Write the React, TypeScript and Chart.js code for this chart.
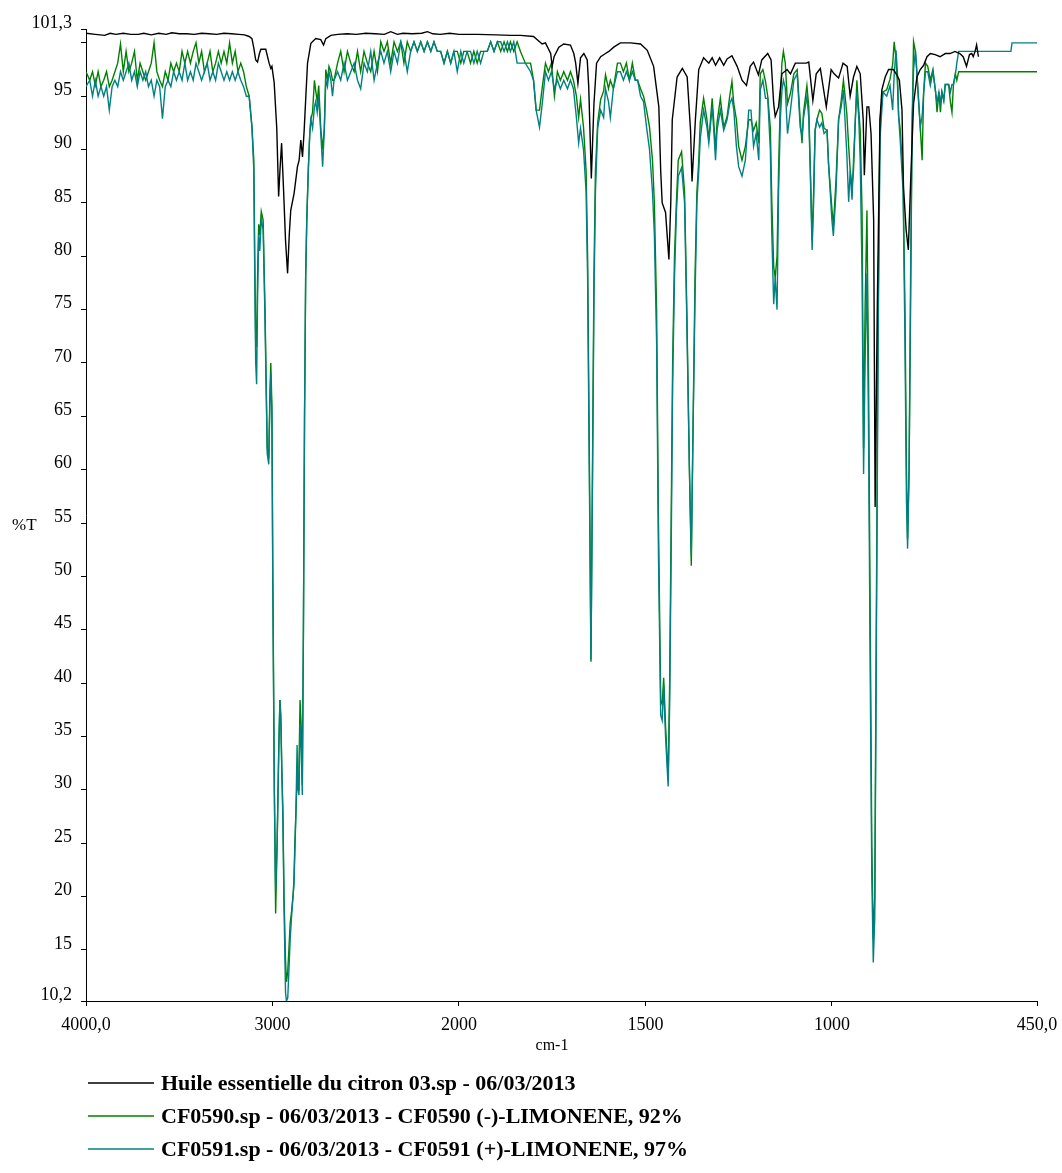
import { useEffect, useRef } from "react";
import { Chart, registerables } from "chart.js";

Chart.register(...registerables);

// Lemon essential oil spectrum: wavenumber (cm-1) and transmittance (%T)
const citronWn = [
  4000, 3950, 3900, 3870, 3840, 3800, 3760, 3720, 3690, 3650, 3610, 3570, 3540, 3500, 3460, 3420,
  3380, 3340, 3300, 3260, 3220, 3180, 3150, 3125, 3110, 3100, 3090, 3080, 3070, 3062, 3045, 3036,
  3018, 3009, 3003, 2991, 2977, 2967, 2960, 2951, 2940, 2930, 2919, 2910, 2902, 2884, 2866, 2857,
  2848, 2839, 2830, 2821, 2812, 2794, 2768, 2741, 2726, 2714, 2687, 2650, 2600, 2550, 2500, 2450,
  2400, 2366, 2330, 2300, 2250, 2200, 2169, 2140, 2100, 2050, 2000, 1950, 1900, 1860, 1835, 1800,
  1777, 1768, 1754, 1750, 1745, 1732, 1719, 1701, 1692, 1687, 1681, 1674, 1665, 1656, 1652, 1645,
  1638, 1631, 1620, 1607, 1598, 1585, 1567, 1540, 1513, 1495, 1478, 1464, 1459, 1455, 1446, 1437,
  1432, 1428, 1415, 1401, 1388, 1379, 1375, 1366, 1357, 1344, 1330, 1321, 1312, 1301, 1290, 1281,
  1268, 1254, 1241, 1229, 1219, 1210, 1197, 1188, 1172, 1163, 1156, 1152, 1143, 1134, 1120, 1111,
  1098, 1080, 1069, 1062, 1051, 1042, 1031, 1015, 1002, 994, 982, 970, 959, 951, 942, 933,
  924, 916, 913, 906, 901, 895, 888, 884, 878, 871, 866, 857, 848, 835, 826, 819,
  812, 808, 801, 795, 788, 781, 772, 763, 754, 745, 736, 723, 710, 696, 683, 670,
  657, 648, 639, 631, 625, 621, 616, 612, 607,
];
const citronT = [
  100.9, 100.8, 100.7, 100.9, 100.8, 100.9, 100.8, 100.8, 100.9, 100.75, 100.9, 100.8, 100.95, 100.85, 100.85, 100.8,
  100.9, 100.85, 100.8, 100.9, 100.85, 100.8, 100.75, 100.6, 100.4, 99.5, 98.4, 98.2, 99.0, 99.4, 99.4, 99.4,
  98.1, 97.6, 97.8, 96.3, 92.0, 85.6, 88.0, 90.6, 86.0, 81.5, 78.4, 82.0, 84.3, 85.9, 88.4, 89.0,
  90.9, 89.3, 91.8, 95.0, 98.1, 99.96, 100.4, 100.3, 99.8, 100.4, 100.7, 100.8, 100.85, 100.8, 100.9, 100.85,
  100.8, 101.05, 100.8, 100.9, 100.85, 100.9, 101.05, 100.85, 100.8, 100.9, 100.8, 100.8, 100.75, 100.7, 100.7, 100.6,
  99.9, 100.0, 99.0, 97.8, 98.7, 99.6, 99.9, 99.8, 99.0, 98.1, 96.2, 98.6, 99.0, 98.4, 95.9, 87.3,
  94.3, 98.1, 98.7, 99.0, 99.2, 99.6, 100.0, 100.0, 99.9, 99.3, 97.8, 94.0, 88.0, 85.0, 84.1, 79.7,
  85.0, 92.8, 96.8, 97.6, 96.8, 91.8, 87.0, 92.8, 97.5, 98.6, 98.1, 98.6, 97.9, 98.6, 97.9, 98.5,
  98.8, 97.8, 96.5, 96.0, 97.8, 98.2, 97.0, 98.4, 99.0, 98.4, 94.3, 93.1, 94.0, 97.1, 97.5, 97.1,
  98.1, 98.1, 98.1, 98.2, 94.6, 97.1, 97.6, 94.0, 97.5, 97.1, 96.7, 98.1, 97.8, 95.0, 96.8, 97.8,
  97.1, 92.8, 87.6, 94.0, 94.0, 91.5, 83.4, 56.5, 75.9, 92.8, 95.6, 96.8, 97.5, 97.5, 97.0, 96.5,
  93.7, 86.5, 82.5, 80.6, 87.8, 94.3, 96.8, 97.5, 97.9, 98.7, 99.0, 98.9, 98.7, 99.0, 99.0, 99.2,
  99.0, 98.7, 97.8, 98.9, 99.0, 98.7, 99.2, 99.8, 98.7,
];

// Shared wavenumber grid of the two limonene reference spectra
const limoneneWn = [
  4000, 3980, 3965, 3950, 3935, 3920, 3905, 3890, 3875, 3860, 3845, 3830, 3815, 3800, 3785, 3770,
  3755, 3740, 3725, 3710, 3695, 3680, 3665, 3650, 3635, 3620, 3605, 3590, 3575, 3560, 3545, 3530,
  3515, 3500, 3485, 3470, 3455, 3440, 3425, 3410, 3395, 3380, 3365, 3350, 3335, 3320, 3305, 3290,
  3275, 3260, 3245, 3230, 3215, 3200, 3185, 3170, 3155, 3140, 3125, 3110, 3100,
  3095, 3090, 3085, 3080, 3074, 3068, 3060, 3050, 3040, 3028, 3020, 3014, 3009, 3003, 2998, 2990,
  2983, 2975, 2966, 2960, 2955, 2950, 2944, 2938, 2930, 2925, 2918, 2912, 2905, 2898, 2890, 2885,
  2880, 2874, 2868, 2863, 2858, 2852, 2846, 2840, 2834, 2828, 2822, 2816, 2808, 2800, 2794, 2785,
  2775, 2768, 2760, 2752, 2741, 2731, 2722, 2714, 2705, 2697,
  2687, 2678, 2670, 2651, 2634, 2616, 2598, 2580, 2562, 2544, 2527, 2509, 2491, 2473, 2455, 2437,
  2419, 2402, 2384, 2366, 2348, 2330, 2312, 2295, 2277, 2259, 2241, 2223, 2205, 2187, 2169, 2151,
  2134, 2116, 2098, 2080, 2062, 2044, 2027, 2009, 1995, 1987, 1978, 1969, 1960, 1951, 1942, 1933,
  1924, 1915, 1906, 1897, 1888, 1879, 1870, 1862, 1853, 1844, 1835,
  1822, 1808, 1800, 1793, 1784, 1776, 1768, 1760, 1752, 1744, 1736, 1728, 1719, 1709, 1701, 1693,
  1685, 1679, 1674, 1666, 1659, 1655, 1650, 1646, 1642, 1638, 1634, 1628, 1620, 1612, 1607, 1599,
  1594, 1586, 1575, 1567, 1559, 1551, 1543, 1535, 1527, 1521, 1513, 1505, 1497, 1489, 1481, 1476,
  1470, 1465, 1459, 1455, 1451, 1446, 1439, 1435, 1431, 1427, 1422, 1417, 1412, 1403, 1395, 1389,
  1382, 1377, 1373, 1367, 1362, 1357,
  1353, 1344, 1335, 1330, 1321, 1317, 1312, 1308, 1299, 1290, 1281, 1274, 1268, 1263, 1256, 1250,
  1241, 1232, 1223, 1217, 1210, 1203, 1196, 1192, 1185, 1178, 1172, 1165, 1161, 1156, 1152, 1147,
  1143, 1138, 1134, 1130, 1125, 1119, 1111, 1102, 1093, 1085, 1080, 1076, 1067, 1062, 1058, 1053,
  1049, 1045, 1040, 1033, 1027, 1021, 1013, 1009, 1000, 996, 989, 982, 975, 969, 960, 955,
  951, 946, 942, 937, 933, 928, 924, 919, 915, 911, 906, 902, 897, 893, 889, 885,
  881, 876, 871, 863, 853, 844, 837, 833, 828, 824, 821, 817, 809, 804, 800, 797,
  793, 789, 785, 781, 776, 772, 767, 763, 758, 754, 749, 743, 736, 729, 722, 718,
  713, 709, 705, 700, 696, 687, 682, 678, 674, 669, 665, 660, 650, 520, 517, 450,
];

// CF0590 (-)-limonene, %T on limoneneWn
const cf0590T = [
  97.3, 96.5, 97.3, 96.0, 97.3, 95.9, 96.5, 97.3, 95.9, 96.5, 97.3, 98.1, 99.9, 97.3, 99.2, 97.3,
  98.1, 99.2, 96.5, 98.1, 97.3, 96.5, 97.3, 98.1, 100.0, 97.3, 96.5, 95.9, 97.3, 96.5, 98.1, 97.3,
  98.1, 97.3, 99.2, 98.1, 99.2, 98.1, 99.2, 100.0, 98.1, 99.2, 97.3, 98.1, 99.2, 97.3, 98.1, 99.2,
  98.1, 99.2, 98.1, 100.0, 98.1, 99.2, 97.3, 98.1, 97.3, 95.9, 95.0, 92.1, 89.0,
  80.0, 72.0, 71.5, 78.0, 83.0, 82.0, 84.2, 83.4, 75.0, 62.0, 61.0, 67.0, 70.0, 66.0, 50.0, 30.0,
  18.4, 25.0, 34.0, 38.4, 37.0, 32.0, 28.0, 20.0, 14.0, 12.0, 13.0, 15.0, 17.5, 18.5, 20.0, 21.5,
  25.0, 28.0, 31.0, 30.0, 32.0, 38.4, 36.0, 30.5, 45.0, 65.0, 78.0, 83.4, 88.0, 91.5, 92.8, 93.5,
  96.5, 95.5, 94.5, 96.0, 92.0, 90.0, 92.0, 97.5, 96.5, 97.8,
  97.3, 96.5, 96.5, 98.1, 99.2, 97.3, 99.2, 98.1, 97.3, 99.2, 97.3, 99.2, 98.1, 97.3, 99.2, 97.3,
  100.1, 99.2, 100.1, 98.1, 100.1, 99.2, 100.1, 98.1, 100.1, 99.2, 100.1, 99.2, 100.1, 99.2, 100.1, 99.2,
  100.1, 99.2, 99.2, 98.1, 99.2, 98.1, 99.2, 99.2, 98.1, 99.2, 99.2, 98.1, 99.2, 98.1, 99.2, 99.2,
  99.2, 100.1, 99.2, 100.1, 99.2, 100.1, 99.2, 100.1, 99.2, 100.1, 99.2,
  98.1, 98.1, 96.5, 93.7, 93.7, 96.0, 98.1, 97.3, 98.1, 95.0, 97.3, 96.5, 97.3, 96.5, 97.3, 96.5,
  95.0, 93.0, 94.7, 92.1, 88.0, 80.0, 60.0, 42.0, 60.0, 78.0, 88.0, 92.5, 94.7, 95.5, 97.0, 95.7,
  96.5, 95.7, 98.1, 98.1, 97.3, 98.1, 96.5, 98.1, 96.5, 96.5, 95.7, 95.0, 93.7, 92.1, 89.0, 85.0,
  75.0, 55.0, 38.4, 38.0, 40.5, 36.0, 31.0, 40.0, 55.0, 70.0, 80.0, 85.0, 89.0, 89.8, 86.0, 75.0,
  60.0, 51.0, 62.0, 78.0, 86.0, 88.9,
  92.5, 94.8, 92.8, 90.9, 94.8, 92.8, 89.9, 92.5, 94.8, 92.1, 93.1, 95.0, 96.4, 94.3, 92.8, 90.3,
  89.0, 90.3, 92.8, 92.8, 91.8, 92.5, 90.6, 97.1, 97.5, 96.4, 95.0, 92.0, 85.0, 79.0, 78.0, 80.0,
  88.0, 95.0, 98.1, 99.2, 98.1, 94.3, 95.3, 97.1, 97.5, 92.8, 90.6, 93.5, 96.0, 94.0, 88.5, 81.5,
  86.0, 91.8, 92.8, 93.7, 93.4, 92.0, 91.8, 88.7, 84.5, 82.8, 87.1, 92.8, 94.6, 96.5, 93.4, 90.3,
  88.1, 86.5, 88.1, 92.8, 96.5, 93.7, 91.8, 84.0, 62.0, 75.0, 84.3, 70.0, 45.0, 25.0, 16.0, 20.0,
  45.0, 75.0, 92.8, 95.4, 95.6, 96.6, 98.0, 100.1, 98.5, 96.0, 93.1, 92.0, 87.1, 75.0, 60.0, 53.5,
  60.0, 75.0, 92.0, 100.1, 99.2, 97.3, 94.3, 92.1, 89.0, 95.3, 98.1, 97.8, 96.5, 97.5, 95.4, 93.5,
  95.4, 93.5, 95.4, 94.6, 96.1, 96.1, 94.4, 93.5, 96.1, 97.1, 96.5, 97.3, 97.3, 97.3, 97.3, 97.3,
];

// CF0591 (+)-limonene, %T on limoneneWn
const cf0591T = [
  95.9, 96.5, 95.0, 96.5, 95.0, 95.9, 95.0, 95.9, 93.7, 95.9, 96.5, 95.9, 97.3, 96.5, 97.3, 98.1,
  96.5, 97.3, 95.9, 97.3, 96.5, 97.3, 95.9, 96.5, 95.0, 96.5, 95.9, 92.9, 95.9, 96.5, 95.9, 97.3,
  96.5, 97.3, 96.5, 98.1, 96.5, 97.3, 96.5, 98.1, 97.3, 96.5, 97.3, 98.1, 96.5, 97.3, 96.5, 98.1,
  97.3, 96.5, 97.3, 96.5, 97.3, 96.5, 97.3, 96.5, 95.9, 95.0, 95.0, 92.1, 88.0,
  78.0, 70.0, 68.0, 76.0, 82.0, 80.5, 83.5, 82.5, 74.0, 61.5, 60.5, 66.0, 69.0, 65.0, 48.0, 30.0,
  20.5, 25.0, 34.0, 38.4, 36.0, 32.0, 27.0, 19.0, 11.0, 10.2, 10.5, 13.0, 16.0, 18.0, 20.0, 21.0,
  24.0, 28.0, 34.2, 30.0, 29.5, 36.0, 34.0, 29.5, 45.0, 65.0, 78.0, 83.4, 88.0, 91.5, 92.8, 92.0,
  94.0, 94.5, 93.5, 95.0, 91.5, 88.4, 91.8, 96.5, 95.9, 97.3,
  96.5, 95.0, 96.5, 97.3, 96.5, 98.1, 96.5, 97.3, 98.1, 96.5, 95.7, 98.1, 97.3, 99.2, 96.5, 98.1,
  99.2, 98.1, 99.2, 97.3, 99.2, 98.1, 100.1, 99.2, 97.3, 99.2, 100.1, 99.2, 100.1, 99.2, 100.1, 99.2,
  100.1, 99.2, 99.2, 98.1, 99.2, 98.1, 99.2, 97.3, 99.2, 98.1, 99.2, 99.2, 98.1, 99.2, 98.1, 99.2,
  99.2, 100.1, 99.2, 100.1, 100.1, 99.2, 100.1, 99.2, 100.1, 98.1, 98.1,
  98.1, 97.3, 96.5, 93.7, 92.1, 94.5, 97.3, 96.5, 97.3, 95.7, 96.5, 95.7, 96.5, 95.7, 96.5, 95.7,
  93.0, 90.6, 92.0, 90.0, 86.0, 78.0, 58.0, 42.2, 58.0, 76.0, 86.0, 92.0, 93.7, 93.0, 95.7, 94.5,
  93.0, 95.7, 97.3, 97.3, 96.5, 97.3, 96.5, 97.3, 96.5, 96.5, 95.0, 94.5, 92.1, 90.0, 86.0, 82.0,
  72.0, 52.0, 37.0, 36.5, 39.8, 35.0, 30.3, 38.0, 52.0, 68.0, 78.0, 84.0, 87.5, 88.3, 85.0, 74.0,
  60.0, 52.0, 62.0, 76.0, 85.0, 88.0,
  91.0, 93.7, 92.1, 90.6, 94.0, 92.0, 89.0, 91.8, 93.7, 91.8, 92.8, 94.3, 94.8, 93.7, 90.3, 88.4,
  87.5, 89.0, 93.7, 93.7, 90.3, 91.5, 89.0, 95.6, 96.5, 94.8, 94.8, 90.0, 82.0, 75.5, 78.0, 75.0,
  86.0, 93.0, 95.5, 96.5, 95.8, 91.5, 93.7, 96.5, 97.1, 92.1, 91.3, 93.0, 95.0, 93.0, 88.1, 80.6,
  85.0, 91.8, 92.8, 92.1, 92.5, 91.5, 91.8, 88.7, 83.4, 81.9, 86.0, 92.8, 94.0, 95.6, 89.6, 85.1,
  88.0, 85.3, 89.0, 93.0, 95.4, 93.0, 89.0, 78.0, 59.6, 70.0, 78.4, 65.0, 40.0, 22.0, 13.8, 18.0,
  42.0, 72.0, 91.0, 95.4, 95.0, 96.0, 93.7, 97.0, 99.3, 97.0, 93.1, 91.0, 86.0, 72.0, 57.0, 52.6,
  60.0, 78.0, 92.0, 97.5, 99.3, 97.0, 94.3, 92.1, 93.1, 95.3, 97.3, 97.3, 96.0, 97.3, 95.4, 94.4,
  95.4, 94.4, 95.4, 94.6, 96.1, 96.1, 95.4, 96.1, 96.1, 97.0, 98.1, 99.2, 99.2, 99.2, 100.0, 100.0,
];

const seriesNames = [
  "Huile essentielle du citron 03.sp - 06/03/2013",
  "CF0590.sp - 06/03/2013 - CF0590 (-)-LIMONENE, 92%",
  "CF0591.sp - 06/03/2013 - CF0591 (+)-LIMONENE, 97%",
];
const seriesColors = ["#000000", "#008000", "#008080"];

const xTickWn = [4000, 3000, 2000, 1500, 1000, 450];
const xTickLabels = ["4000,0", "3000", "2000", "1500", "1000", "450,0"];
const yTickValues = [10.2, 15, 20, 25, 30, 35, 40, 45, 50, 55, 60, 65, 70, 75, 80, 85, 90, 95, 100, 101.3];
const yTickLabels = ["10,2", "15", "20", "25", "30", "35", "40", "45", "50", "55", "60", "65", "70", "75", "80", "85", "90", "95", "", "101,3"];

const SERIF = '"Liberation Serif", "Times New Roman", serif';

// The abscissa is expanded by a factor of two below 2000 cm-1.
const toAxis = (wn: number) => (wn >= 2000 ? (4000 - wn) / 2 : 1000 + (2000 - wn));

const points = (wn: number[], t: number[]) => wn.map((w, i) => ({ x: toAxis(w), y: t[i] }));

const textPlugin = {
  id: "spectrumText",
  afterDraw(chart: any) {
    const { ctx, chartArea } = chart;
    ctx.save();
    ctx.fillStyle = "#000";
    ctx.font = `17px ${SERIF}`;
    ctx.textBaseline = "middle";
    ctx.textAlign = "left";
    ctx.fillText("%T", 4, (chartArea.top + chartArea.bottom) / 2 + 11);
    ctx.font = `16px ${SERIF}`;
    ctx.textAlign = "center";
    ctx.fillText("cm-1", chartArea.left + (chartArea.right - chartArea.left) * 0.49, chartArea.bottom + 45);

    const x0 = 80;
    const x1 = 146;
    chart.data.datasets.forEach((ds: any, i: number) => {
      const y = chartArea.bottom + 82 + i * 33;
      ctx.strokeStyle = ds.borderColor;
      ctx.lineWidth = 1.5;
      ctx.beginPath();
      ctx.moveTo(x0, y);
      ctx.lineTo(x1, y);
      ctx.stroke();
      ctx.font = `bold 22px ${SERIF}`;
      ctx.textAlign = "left";
      ctx.fillText(ds.label, x1 + 7, y + 1);
    });
    ctx.restore();
  },
};

export default function App() {
  const canvasRef = useRef<HTMLCanvasElement | null>(null);

  useEffect(() => {
    if (!canvasRef.current) return;
    const tickFont = { family: SERIF, size: 18 };
    const chart = new Chart(canvasRef.current, {
      type: "line",
      data: {
        datasets: [
          { label: seriesNames[0], data: points(citronWn, citronT), borderColor: seriesColors[0], order: 0 },
          { label: seriesNames[1], data: points(limoneneWn, cf0590T), borderColor: seriesColors[1], order: 2 },
          { label: seriesNames[2], data: points(limoneneWn, cf0591T), borderColor: seriesColors[2], order: 1 },
        ].map((d) => ({ ...d, borderWidth: 1.4, pointRadius: 0, tension: 0, fill: false })),
      },
      options: {
        animation: false,
        responsive: false,
        events: [],
        layout: { padding: { top: 21, right: 25, bottom: 97, left: 0 } },
        plugins: { legend: { display: false }, tooltip: { enabled: false } },
        scales: {
          x: {
            type: "linear",
            min: 0,
            max: toAxis(450),
            afterBuildTicks: (scale: any) => {
              scale.ticks = xTickWn.map((w) => ({ value: toAxis(w) }));
            },
            afterFit: (scale: any) => {
              scale.height = 67;
              // edge labels may overhang the plot; the fixed layout padding covers them
              scale.paddingLeft = 0;
              scale.paddingRight = 0;
            },
            ticks: {
              autoSkip: false,
              maxRotation: 0,
              padding: 8,
              color: "#000",
              font: tickFont,
              callback: (_v: any, i: number) => xTickLabels[i],
            },
            grid: { drawOnChartArea: false, drawTicks: true, tickLength: 5, color: "#000" },
            border: { color: "#000", width: 1 },
          },
          y: {
            type: "linear",
            min: 10.2,
            max: 101.3,
            afterBuildTicks: (scale: any) => {
              scale.ticks = yTickValues.map((v) => ({ value: v }));
            },
            afterFit: (scale: any) => {
              scale.width = 78;
            },
            ticks: {
              autoSkip: false,
              padding: 9,
              labelOffset: -6,
              color: "#000",
              font: tickFont,
              callback: (_v: any, i: number) => yTickLabels[i],
            },
            grid: { drawOnChartArea: false, drawTicks: true, tickLength: 5, color: "#000" },
            border: { color: "#000", width: 1 },
          },
        },
      },
      plugins: [textPlugin],
    });
    return () => chart.destroy();
  }, []);

  return (
    <canvas
      ref={canvasRef}
      width={1054}
      height={1157}
      style={{ display: "block", position: "absolute", left: 8, top: 8 }}
    />
  );
}
